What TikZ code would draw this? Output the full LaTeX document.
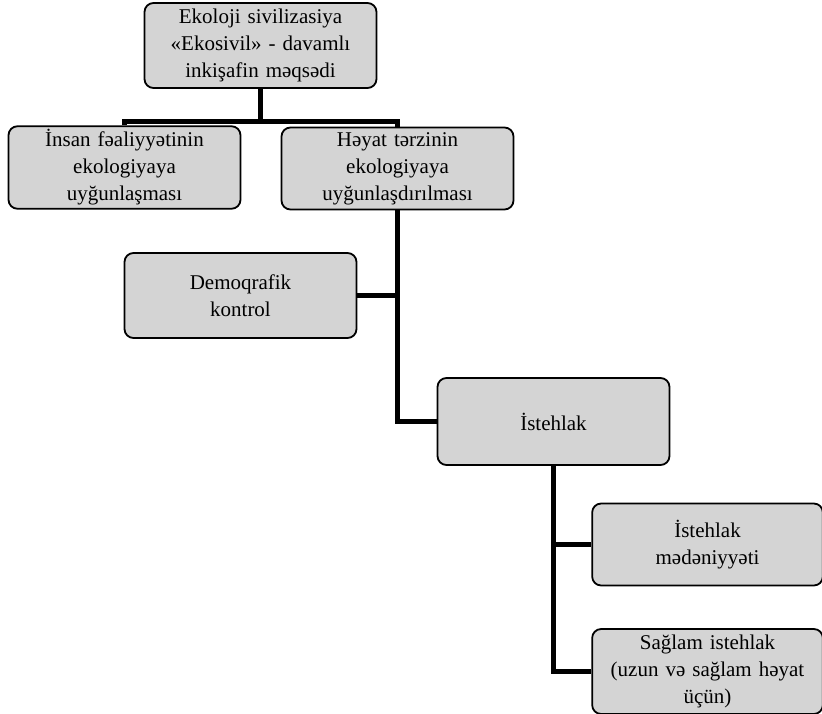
\documentclass[tikz,border=0pt]{standalone}
\usepackage{fontspec}
\setmainfont{Liberation Serif}
\usetikzlibrary{positioning}

\tikzset{
	box/.style={draw, line width=1.8pt, rounded corners=9pt, fill=black!17,
		minimum width=232pt, minimum height=82pt, text width=224pt, align=center,
		font=\fontsize{21}{27}\selectfont},
	link/.style={line width=5pt}
}

\begin{document}
\begin{tikzpicture}[on grid]
			\useasboundingbox (-260.5pt,45.5pt) rectangle (561.5pt,-668.5pt);
			% Define nodes
			\node[box, minimum height=85pt]                      (top) {Ekoloji sivilizasiya\\«Ekosivil» - davamlı\\inkişafin məqsədi};
			\node[box, minimum height=79pt, below left=122pt and 136pt of top]   (ins) {İnsan fəaliyyətinin\\ekologiyaya\\uyğunlaşması};
			\node[box, below right=123pt and 137pt of top]  (hey) {Həyat tərzinin\\ekologiyaya\\uyğunlaşdırılması};
			\node[box, minimum height=85pt, below left=127pt and 157pt of hey]   (demo) {Demoqrafik\\kontrol\\[4pt]};
			\node[box, minimum height=87pt, below right=253pt and 156pt of hey]  (ist) {İstehlak};
			\node[box, minimum width=230pt, below right=123pt and 154pt of ist]  (med) {İstehlak\\mədəniyyəti};
			\node[box, minimum width=230pt, minimum height=85pt, below=127pt of med]  (sag) {Sağlam istehlak\\(uzun və sağlam  həyat\\üçün)};

			% Connect the nodes
			\draw[link] (top.south) -- ++(0,-33pt) coordinate (split);
			\draw[link] (ins.north) |- (split) -| (hey.north);
			\draw[link] (hey.south) |- (ist.west);
			\draw[link] (demo.east) -- (demo.east -| hey.south);
			\draw[link] (ist.south) |- (med.west);
			\draw[link] (ist.south) |- (sag.west);
		\end{tikzpicture}
\end{document}
